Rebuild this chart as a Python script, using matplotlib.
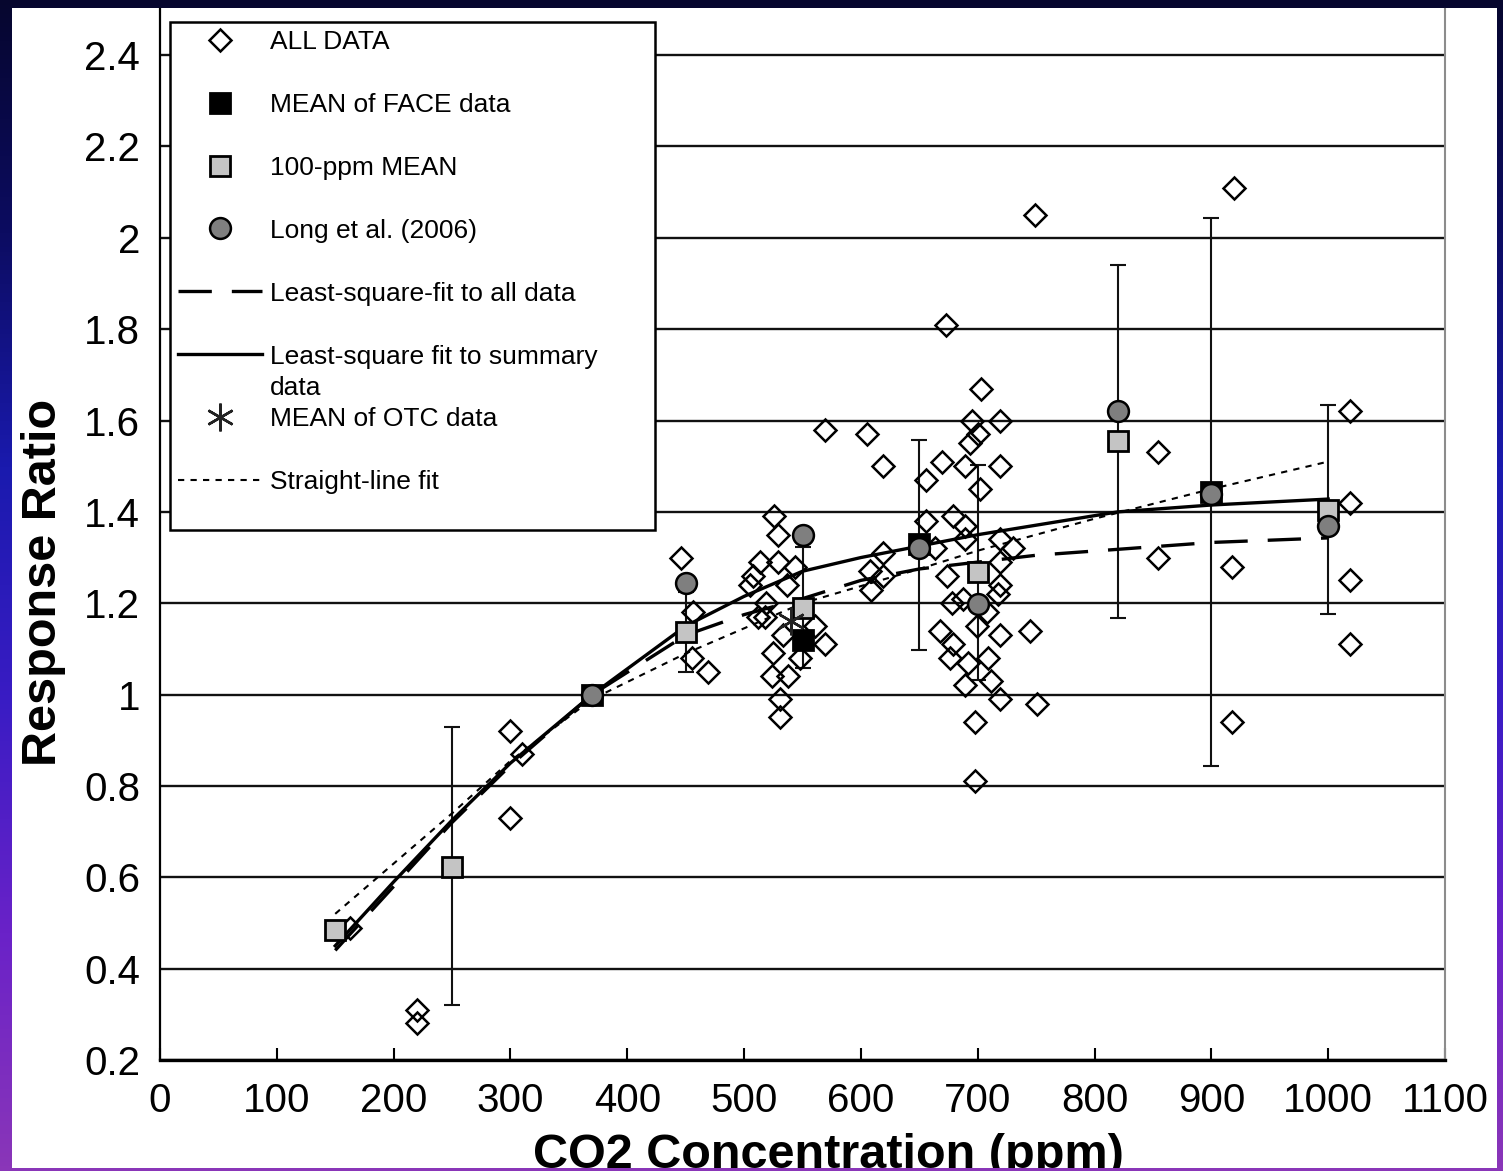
import numpy as np
import matplotlib.pyplot as plt
from matplotlib.colors import LinearSegmentedColormap
from matplotlib.patches import Rectangle

plt.rcParams['font.family'] = ['Liberation Sans', 'DejaVu Sans']

# individual observations (ALL DATA)
all_x = [163, 220, 220, 300, 310, 300, 446, 456, 455, 469,
         569, 605, 619, 703, 695, 719, 700, 693, 669, 656,
         689, 719, 702, 526, 529, 679, 656, 689, 689, 719,
         730, 663, 514, 529, 544, 619, 608, 619, 609, 508,
         537, 719, 674, 719, 687, 717, 519, 518, 512, 678,
         708, 561, 699, 668, 679, 719, 745, 569, 533, 525,
         676, 692, 709, 548, 524, 538, 689, 711, 531, 531,
         719, 751, 698, 698, 673, 749, 919, 854, 854, 918,
         918, 1019, 1019, 1019, 1019, 505]
all_y = [0.49, 0.31, 0.28, 0.92, 0.87, 0.73, 1.30, 1.18, 1.08, 1.05,
         1.58, 1.57, 1.50, 1.67, 1.60, 1.60, 1.57, 1.55, 1.51, 1.47,
         1.50, 1.50, 1.45, 1.39, 1.35, 1.39, 1.38, 1.37, 1.34, 1.34,
         1.32, 1.32, 1.29, 1.29, 1.28, 1.31, 1.27, 1.26, 1.23, 1.26,
         1.24, 1.29, 1.26, 1.24, 1.21, 1.22, 1.20, 1.17, 1.17, 1.20,
         1.18, 1.15, 1.15, 1.14, 1.11, 1.13, 1.14, 1.11, 1.13, 1.09,
         1.08, 1.07, 1.08, 1.08, 1.04, 1.04, 1.02, 1.03, 0.99, 0.95,
         0.99, 0.98, 0.94, 0.81, 1.81, 2.05, 2.11, 1.53, 1.30, 1.28,
         0.94, 1.62, 1.42, 1.25, 1.11, 1.24]

# summary points
ppm100_x = [150, 250, 450, 550, 700, 820, 1000]
ppm100_y = [0.485, 0.622, 1.137, 1.19, 1.268, 1.555, 1.404]
face_x = [370, 550, 650, 900]
face_y = [1.0, 1.12, 1.33, 1.443]
long_x = [370, 450, 550, 650, 700, 820, 900, 1000]
long_y = [1.0, 1.244, 1.349, 1.321, 1.198, 1.621, 1.439, 1.369]
otc_x = [540]
otc_y = [1.16]

# error bars
err_x = [250, 450, 550, 650, 700, 820, 900, 1000]
err_y = [0.625, 1.137, 1.19, 1.327, 1.268, 1.554, 1.443, 1.405]
err_half = [0.305, 0.088, 0.132, 0.23, 0.235, 0.386, 0.60, 0.229]

# fitted curves
dash_x = [150, 200, 250, 300, 370, 450, 500, 550, 600, 650, 700, 750, 820, 900, 1000]
dash_y = [0.44, 0.58, 0.72, 0.845, 1.0, 1.13, 1.175, 1.21, 1.25, 1.275, 1.29, 1.305, 1.318, 1.333, 1.343]
solid_x = [150, 200, 250, 300, 370, 450, 500, 550, 600, 650, 700, 820, 900, 1000]
solid_y = [0.45, 0.59, 0.725, 0.85, 1.0, 1.15, 1.215, 1.27, 1.30, 1.325, 1.35, 1.40, 1.415, 1.428]
dot_x = [150, 200, 250, 300, 370, 450, 550, 650, 700, 800, 900, 1000]
dot_y = [0.52, 0.63, 0.74, 0.855, 0.99, 1.09, 1.20, 1.275, 1.315, 1.385, 1.45, 1.51]

xticks = list(range(0, 1101, 100))
yticks = [0.2, 0.4, 0.6, 0.8, 1.0, 1.2, 1.4, 1.6, 1.8, 2.0, 2.2, 2.4]
ytick_labels = ['0.2', '0.4', '0.6', '0.8', '1', '1.2', '1.4', '1.6', '1.8', '2', '2.2', '2.4']

W, H = 1503, 1171
fig = plt.figure(figsize=(W / 100, H / 100), dpi=100)

# slide background
bg = fig.add_axes([0, 0, 1, 1], zorder=-2)
cmap = LinearSegmentedColormap.from_list(
    'bg', ['#06062e', '#0c0c62', '#1a1aae', '#3a1cc4', '#6a22c8', '#8a36b8'])
bg.imshow(np.linspace(0, 1, 256).reshape(-1, 1), aspect='auto', cmap=cmap)
bg.set_axis_off()

# white panel
panel = fig.add_axes([12 / W, (H - 1168) / H, 1485 / W, 1160 / H], zorder=-1)
panel.set_facecolor('white')
panel.set_xticks([])
panel.set_yticks([])
for s in panel.spines.values():
    s.set_visible(False)
panel.text(0.5495, 0.0, 'CO2 Concentration (ppm)', transform=panel.transAxes,
           ha='center', va='baseline', fontsize=35, fontweight='bold', clip_on=True)

ax = fig.add_axes([160 / W, 111 / H, 1285 / W, 1050.6 / H])
ax.set_facecolor('white')

ax.errorbar(err_x, err_y, yerr=err_half, fmt='none', ecolor='#111111',
            elinewidth=1.5, capsize=6, capthick=1.5, zorder=2)
h_all, = ax.plot(all_x, all_y, ls='none', marker='D', ms=11, mfc='none',
                 mec='black', mew=1.8, zorder=3, label='ALL DATA')
h_dash, = ax.plot(dash_x, dash_y, color='black', lw=2.4, dashes=(10, 6), zorder=4,
                  label='Least-square-fit to all data')
h_solid, = ax.plot(solid_x, solid_y, color='black', lw=2.4, zorder=4,
                   label='Least-square fit to summary')
h_dot, = ax.plot(dot_x, dot_y, color='black', lw=1.5, dashes=(3, 3), zorder=4,
                 label='Straight-line fit')
h_100, = ax.plot(ppm100_x, ppm100_y, ls='none', marker='s', ms=15, mfc='#c4c4c4',
                 mec='black', mew=2, zorder=5, label='100-ppm MEAN')
h_face, = ax.plot(face_x, face_y, ls='none', marker='s', ms=15, mfc='black',
                  mec='black', mew=2, zorder=5, label='MEAN of FACE data')
h_long, = ax.plot(long_x, long_y, ls='none', marker='o', ms=15, mfc='#7f7f7f',
                  mec='black', mew=1.8, zorder=6, label='Long et al. (2006)')
h_otc, = ax.plot(otc_x, otc_y, ls='none', marker=(6, 2, 0), ms=20, mec='#222222',
                 mew=1.8, zorder=6, label='MEAN of OTC data')

ax.set_xlim(0, 1100)
ax.set_ylim(0.2, 2.5)
ax.set_xticks(xticks)
ax.set_yticks(yticks)
ax.set_yticklabels(ytick_labels)
ax.tick_params(axis='x', direction='in', length=8.6, width=1.5, pad=16, labelsize=29)
ax.tick_params(axis='y', length=0, pad=14.4, labelsize=29)
ax.grid(axis='y', color='#111111', lw=1.7)
ax.set_axisbelow(True)

ax.spines['top'].set_visible(False)
ax.spines['left'].set_linewidth(1.6)
ax.spines['bottom'].set_linewidth(2.4)
ax.spines['right'].set_color('#8c8c8c')
ax.spines['right'].set_linewidth(1.5)

fig.text(44 / W, 1 - 582 / H, 'Response Ratio', rotation=90, ha='center', va='center',
         fontsize=35, fontweight='bold')

# legend box
box = Rectangle((0.0078, 0.5045), 0.3774, 0.4835, transform=ax.transAxes,
                facecolor='white', edgecolor='black', lw=1.8, zorder=7)
ax.add_patch(box)
leg = ax.legend(handles=[h_all, h_face, h_100, h_long, h_dash, h_solid, h_otc, h_dot],
                loc='upper left', bbox_to_anchor=(0.0078, 0.5045, 0.377, 0.4835),
                mode='expand', borderaxespad=0, fontsize=19, frameon=False,
                borderpad=0.3, labelspacing=1.475, handlelength=3.2, handletextpad=0.3)
leg.set_zorder(8)

# second line of the summary-fit label, halfway to the next entry
fig.canvas.draw()
texts = leg.get_texts()
b5 = texts[5].get_window_extent()
b6 = texts[6].get_window_extent()
ymid = (b5.y0 + b5.y1 + b6.y0 + b6.y1) / 4
fig.text(b5.x0 / W, ymid / H, 'data', fontsize=19, ha='left', va='center', zorder=9)

fig.savefig('out.png', dpi=100)
